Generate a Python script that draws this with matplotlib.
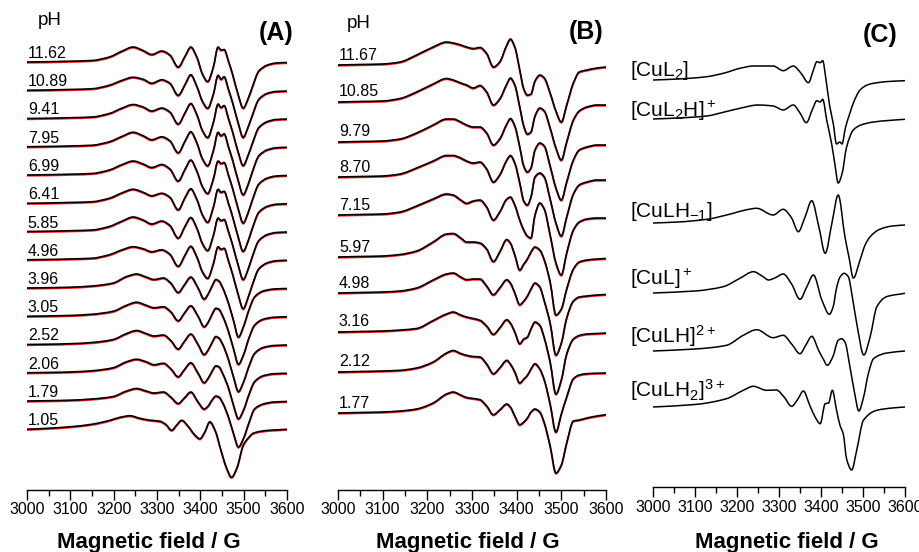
import matplotlib
matplotlib.use("Agg")
import matplotlib.pyplot as plt
from matplotlib.path import Path
from matplotlib.patches import PathPatch
from matplotlib.ticker import MultipleLocator

W, H = 919, 552

plt.rcParams["font.family"] = ["Liberation Sans", "DejaVu Sans"]
plt.rcParams["mathtext.fontset"] = "custom"
plt.rcParams["mathtext.rm"] = "Liberation Sans"
plt.rcParams["mathtext.default"] = "regular"

# ---------------- (A) experimental spectra, amplitude in px above baseline ----
field_a_hi = [3000, 3050, 3100, 3150, 3190, 3220, 3245, 3268, 3288, 3311, 3330, 3349, 3365,
              3378, 3392, 3405, 3417, 3430, 3441, 3448, 3455, 3465, 3475, 3487, 3499, 3510,
              3520, 3535, 3555, 3575, 3600]
a_1162 = [0, 0.3, 0.8, 1.5, 5, 11, 15, 11.5, 7.5, 11, 7, -5, 6, 15, 5, -12, -19.5, -5, 15, 12,
          12.5, 1, -13, -32, -46, -37, -25, -9, -3, -1, -0.5]
a_1089 = [0, 0.3, 0.8, 1.5, 5, 10, 13, 11, 7, 10.5, 7, -5, 6, 15.5, 4, -11, -18, -4, 15, 11,
          13.5, 1, -13, -32, -47, -37, -25, -9, -3, -1.2, -0.8]
a_941 = [0, 0.3, 0.8, 1.5, 5, 10.5, 14, 11.5, 7.5, 10.5, 6.5, -5.5, 6, 15, 4, -12, -19, -4,
         14.5, 11, 13, 0, -14, -33, -47, -37, -25, -9, -3, -1, -0.5]
a_795 = [0, 0.3, 0.8, 1.5, 5, 10.5, 14.5, 11, 7, 10, 6, -6, 6, 15, 4, -12, -19, -4, 14.5, 11,
         13, 0, -14, -33, -48, -38, -25, -9, -3, -1, -0.5]
a_699 = [0, 0.3, 0.8, 1.5, 5, 10.5, 14, 11, 7.5, 10.5, 6, -6, 6, 15, 4, -11.5, -18.5, -4, 14,
         11.5, 12.5, 0, -14, -33, -48, -38, -25, -9, -3, -1, -0.5]
a_641 = [0, 0.3, 0.8, 1.5, 5, 10.5, 14, 11, 7.5, 10, 6, -6.5, 6, 14.5, 4, -11.5, -19, -4, 14,
         11, 12, 0, -14, -33, -48, -38, -25, -9, -3, -1, -0.5]
a_585 = [0, 0.3, 0.8, 1.5, 5, 10.5, 14.5, 11.5, 7.5, 10.5, 6, -6.5, 5.5, 14, 3.5, -12, -19,
         -4, 13.5, 11, 12, 0, -14, -33, -48, -38, -25, -9, -3, -1, -0.5]
a_496 = [0, 0.3, 0.8, 1.5, 5, 10, 13, 11, 8, 10, 5.5, -6.5, 5, 13.5, 3, -12, -18.5, -4, 13,
         10.5, 11.5, -1, -15, -34, -49, -38, -25, -9, -3, -1, -0.5]

field_a_lo = [3000, 3050, 3100, 3150, 3199, 3230, 3253, 3275, 3293, 3315, 3332, 3349, 3363,
              3378, 3395, 3409, 3418, 3427, 3436, 3443, 3452, 3465, 3477, 3488, 3500, 3512,
              3525, 3545, 3570, 3600]
a_396 = [0, 0.3, 0.8, 2, 5, 11.5, 14, 11, 8.5, 10, 5, -4.5, 3, 11, 0, -11, -6, 2, 8.5, 7, 0,
         -15, -33, -49, -38, -22, -9, -3, -1, -0.5]
a_305 = [0, 0.3, 0.8, 2, 5, 11, 14, 11, 8.5, 9.5, 4.5, -4.5, 3, 10.5, 0, -10.5, -6, 2, 8, 7, 0,
         -15, -33, -48, -38, -22, -9, -3, -1, -0.5]
a_252 = [0, 0.3, 0.8, 2, 5, 11, 14, 11, 8.5, 9.5, 4, -4.5, 3, 10.5, 0, -10, -5.5, 2, 8, 6.5, 0,
         -15, -33, -47, -37, -22, -9, -3, -1, -0.5]
a_206 = [0, 0.3, 0.8, 2, 5, 11, 13.5, 11, 8, 9.5, 4, -4, 3, 10, -0.5, -10, -5.5, 1.5, 7, 6, -1,
         -15, -33, -46, -37, -22, -9, -3, -1, -0.5]
a_179 = [0, 0.3, 0.8, 2, 4.5, 10, 12.5, 10, 8, 9, 4, -2.5, 3, 9, -1, -8, -5, 1, 5, 4, -2, -16,
         -33, -46, -37, -22, -8, -3, -1, -0.5]

field_a_105 = [3000, 3050, 3100, 3150, 3192, 3215, 3238, 3260, 3285, 3307, 3320, 3334, 3345,
               3357, 3372, 3386, 3399, 3410, 3422, 3435, 3447, 3460, 3472, 3485, 3499, 3510,
               3522, 3540, 3560, 3580, 3600]
a_105 = [0, 1, 2.5, 5, 9, 12, 13.5, 11, 9, 8, 5, -1, 4, 9, 3, -5, -9.5, -3, 7.5, -2, -20, -38,
         -48, -38, -16, -9, -4, -2, -1, -0.5, 0]

ph_a = ["11.62", "10.89", "9.41", "7.95", "6.99", "6.41", "5.85", "4.96",
        "3.96", "3.05", "2.52", "2.06", "1.79", "1.05"]
spec_a = [a_1162, a_1089, a_941, a_795, a_699, a_641, a_585, a_496,
          a_396, a_305, a_252, a_206, a_179, a_105]
fields_a = [field_a_hi] * 8 + [field_a_lo] * 5 + [field_a_105]

# ---------------- (B) ----------------
field_b = [3000, 3050, 3100, 3139, 3176, 3213, 3243, 3258, 3275, 3288, 3303, 3318, 3333, 3348,
           3362, 3378, 3386, 3396, 3407, 3416, 3424, 3432, 3441, 3452, 3462, 3475, 3488, 3500,
           3512, 3527, 3540, 3557, 3580, 3600]
b_1167 = [0, 0.5, 1, 3, 10, 18, 23, 22, 20, 18, 16.5, 17.5, 11.5, -2, 3, 20, 26, 18, -5, -24,
          -30, -29, -16, -10, -13, -28, -46, -57, -40, -18, -7, -5, -3, -2]
b_1085 = [0, 0.5, 1, 3.5, 10, 18, 23.5, 22, 19, 17, 14, 16.5, 10, -3, 3, 18, 24, 17, -5, -24,
          -32, -30, -14, -6, -9, -26, -46, -58, -40, -18, -9, -5, -3, -3]
b_979 = [0, 0.5, 1, 3, 9, 17, 23, 23, 20, 17, 15, 15, 9, -3, 3, 18, 23.5, 16, -5, -24, -30,
         -26, -8, -1, -4, -24, -46, -58, -40, -18, -8, -5, -3, -3]
b_870 = [0, 0.5, 1, 3, 9, 16, 21.5, 21.5, 19, 16, 14, 15, 8, -5, 2, 17, 21.5, 14, -6, -24, -28,
         -20, 0, 4, 0, -22, -46, -59, -40, -17, -8, -5, -3, -3]
b_715 = [0, 0.5, 1, 3, 9, 16, 21, 20, 15, 11.7, 14, 15, 8, -5, 3, 16, 18, 10, -5, -15, -21,
         -23, 0, 12, 6, -20, -48, -60, -38, -15, -7, -4, -3, -3]
b_597 = [0, 0.5, 1, 2.5, 6, 15, 23, 23.5, 19, 15, 15, 14, 8, -4.5, 5, 17.5, 14, 2, -13, -7,
         -2, 5, 10, 7, -3, -25, -58, -52, -32, -12, -5, -3, -2, -1.5]
b_498 = [0, 0.5, 1, 2, 5, 13, 19, 20, 16, 13.3, 14, 14, 7, -1.7, 5, 13.3, 10, 0, -11.7, -8,
         -3, 4, 10, 6, -8, -30, -62, -50, -25, -8, -4, -3, -2, -1.5]
b_316 = [0, 0.5, 1, 2, 3.5, 11.5, 18, 20, 17, 15, 13.5, 11.7, 6, -2.3, 4, 12.3, 9, 0, -11.7,
         -7, -5, 3, 10, 6.7, -6, -30, -62, -48, -22, -7, -3.5, -2, -1.5, -1]
b_212 = [0, 0.5, 1, 1.7, 4, 10, 19, 21.5, 18.5, 16.7, 15.5, 15, 8, -1.7, 4, 11.7, 8, 0, -11,
         -7, -3.3, 3, 8.3, 3, -8, -32, -60, -42, -25, -6.7, -3, -1.7, -1.2, -1]
b_177 = [0, 0.5, 1, 2, 4, 10, 19, 21, 18, 15.5, 14.5, 13.3, 7, -1.7, 3, 9, 6, -3, -11.7, -9,
         -5, 1, 4, 1, -10, -33, -60, -52, -30, -8, -7, -5, -3, -1.7]

ph_b = ["11.67", "10.85", "9.79", "8.70", "7.15", "5.97", "4.98", "3.16", "2.12", "1.77"]
spec_b = [b_1167, b_1085, b_979, b_870, b_715, b_597, b_498, b_316, b_212, b_177]

# ---------------- (C) simulated species ----------------
f_cul2 = [3000, 3060, 3128, 3170, 3207, 3239, 3286, 3310, 3334, 3352, 3370, 3382, 3390, 3398,
          3404, 3412, 3421, 3429, 3437, 3445, 3450, 3458, 3469, 3477, 3493, 3510, 3525, 3560,
          3600]
c_cul2 = [0, 1, 3.3, 7, 11.7, 14, 14, 9.3, 14, 7, -2.7, 10, 18.3, 17.3, 19.3, 0, -26.7, -43,
          -64, -62, -64, -48, -33, -23, -10, -5, -3.3, -1.5, -0.7]
f_cul2h = [3000, 3060, 3128, 3170, 3207, 3250, 3286, 3310, 3334, 3350, 3365, 3380, 3390, 3398,
           3404, 3414, 3425, 3433, 3441, 3450, 3461, 3477, 3495, 3525, 3560, 3600]
c_cul2h = [0, 1, 3, 7, 10.7, 14, 13, 9, 14, 6, -3.7, 10, 18.3, 17, 19.7, -2, -24, -45, -64,
           -55, -28, -11, -6, -3, -1.5, -0.3]
f_culhm1 = [3000, 3060, 3128, 3191, 3220, 3247, 3286, 3310, 3330, 3346, 3362, 3378, 3395, 3410,
            3426, 3441, 3457, 3467, 3477, 3493, 3505, 3517, 3540, 3570, 3600]
c_culhm1 = [0, 1, 3.7, 9.7, 13, 14.7, 8, 13.7, 5, -8.7, 6, 22.3, -4, -30.3, 0, 28, -13.7, -35,
            -55, -37, -22, -13.7, -6.3, -3, -2]
f_cul = [3000, 3100, 3167, 3207, 3239, 3262, 3275, 3290, 3310, 3330, 3350, 3366, 3382, 3402,
         3420, 3429, 3437, 3445, 3455, 3465, 3475, 3485, 3502, 3517, 3533, 3556, 3600]
c_cul = [0, 2, 6.3, 14.7, 21.3, 16.3, 13, 15, 19, 9, -6.3, 6, 18, -7, -21.3, -13.7, 5, 15.7,
         19.7, 16.3, -5, -30.3, -62, -43.7, -13.7, -3.7, -0.3]
f_culh = [3000, 3100, 3175, 3215, 3247, 3286, 3310, 3330, 3350, 3364, 3378, 3395, 3405, 3415,
          3428, 3441, 3449, 3457, 3469, 3480, 3490, 3502, 3512, 3525, 3557, 3600]
c_culh = [0, 2, 5.7, 15.7, 21.3, 13.3, 15.7, 7, -2.7, 6, 14.7, 0, -7.7, -14.3, -6, 10.7, 12.3,
          9, -16, -42, -60, -45, -24, -7.7, -2, 0]
f_culh2 = [3000, 3100, 3175, 3215, 3239, 3270, 3294, 3312, 3330, 3345, 3358, 3373, 3386, 3398,
           3410, 3418, 3427, 3437, 3445, 3453, 3461, 3473, 3485, 3501, 3533, 3570, 3600]
c_culh2 = [0, 2.5, 8.3, 16.7, 20.7, 16.7, 17, 10, 0.7, 8, 16, 2, -10, -16.7, 3.3, 4, 16.7, -3,
           -18, -27, -52, -63, -43.3, -13.3, -3.3, -1, 0]

names_c = [r"[CuL$_2$]", r"[CuL$_2$H]$^+$", r"[CuLH$_{-1}$]", r"[CuL]$^+$",
           r"[CuLH]$^{2+}$", r"[CuLH$_2$]$^{3+}$"]
fields_c = [f_cul2, f_cul2h, f_culhm1, f_cul, f_culh, f_culh2]
spec_c = [c_cul2, c_cul2h, c_culhm1, c_cul, c_culh, c_culh2]

# baselines of the stacked traces (pixel rows)
base_a = [62 + 28.25 * i for i in range(14)]
base_b = [65, 102, 142, 177, 215, 257, 293, 332, 372, 413]
base_c = [80, 119, 223, 293, 351, 407]
label_c_y = [76, 117, 217, 285, 343, 397]

fig = plt.figure(figsize=(W / 100, H / 100), dpi=100)


def panel(x0, x1, spine_y):
    ax = fig.add_axes([x0 / W, 1 - spine_y / H, (x1 - x0) / W, spine_y / H])
    ax.set_xlim(3000, 3600)
    ax.set_ylim(-spine_y, 0)
    ax.patch.set_visible(False)
    for s in ("left", "right", "top"):
        ax.spines[s].set_visible(False)
    ax.spines["bottom"].set_linewidth(1.0)
    ax.set_yticks([])
    ax.xaxis.set_major_locator(MultipleLocator(100))
    ax.xaxis.set_minor_locator(MultipleLocator(50))
    ax.tick_params(axis="x", which="major", length=7, width=1, labelsize=11.5, pad=2)
    ax.tick_params(axis="x", which="minor", length=4, width=1)
    return ax


def trace(ax, x, y, color, lw):
    # smooth (shape preserving) bezier line through the read points
    n = len(x)
    d = [(y[i + 1] - y[i]) / (x[i + 1] - x[i]) for i in range(n - 1)]
    m = [d[0]] + [0.0] * (n - 2) + [d[-1]]
    for i in range(1, n - 1):
        if d[i - 1] * d[i] > 0:
            h0, h1 = x[i] - x[i - 1], x[i + 1] - x[i]
            w1, w2 = 2 * h1 + h0, h1 + 2 * h0
            m[i] = (w1 + w2) / (w1 / d[i - 1] + w2 / d[i])
    verts, codes = [(x[0], y[0])], [Path.MOVETO]
    for i in range(n - 1):
        h = x[i + 1] - x[i]
        verts += [(x[i] + h / 3, y[i] + m[i] * h / 3),
                  (x[i + 1] - h / 3, y[i + 1] - m[i + 1] * h / 3),
                  (x[i + 1], y[i + 1])]
        codes += [Path.CURVE4] * 3
    ax.add_patch(PathPatch(Path(verts, codes), fill=False, edgecolor=color, lw=lw,
                           joinstyle="round", capstyle="round"))


def ftext(x, y, s, **kw):
    fig.text(x / W, 1 - y / H, s, **kw)


# red fit drawn under the black experimental trace, a hair lower so it peeks out
axA = panel(27, 287, 490)
for lab, fx, amp, b in zip(ph_a, fields_a, spec_a, base_a):
    trace(axA, fx, [a - b - 0.8 for a in amp], "#ff2020", 1.3)
    trace(axA, fx, [a - b for a in amp], "black", 1.2)
    axA.text(3002, -b + 4, lab, fontsize=11.5, va="baseline", ha="left")

axB = panel(338, 606, 490)
for lab, amp, b in zip(ph_b, spec_b, base_b):
    trace(axB, field_b, [a - b - 0.8 for a in amp], "#ff2020", 1.3)
    trace(axB, field_b, [a - b for a in amp], "black", 1.2)
    axB.text(3002, -b + 5.5, lab, fontsize=11.5, va="baseline", ha="left")

axC = panel(653, 905, 487)
for name, fx, amp, b, ly in zip(names_c, fields_c, spec_c, base_c, label_c_y):
    trace(axC, fx, [a - b for a in amp], "black", 1.1)
    ftext(630, ly, name, fontsize=15, va="baseline", ha="left")

ftext(38, 25, "pH", fontsize=13.5, va="baseline")
ftext(347, 28, "pH", fontsize=13.5, va="baseline")
for x, y, s in [(276, 33, "(A)"), (586, 32, "(B)"), (880, 35, "(C)")]:
    ftext(x, y, s, fontsize=18, fontweight="bold", ha="center", va="center")
for x in (149, 468, 787):
    ftext(x, 548, "Magnetic field / G", fontsize=16, fontweight="bold",
          ha="center", va="baseline")

fig.savefig("out.png", dpi=100)
